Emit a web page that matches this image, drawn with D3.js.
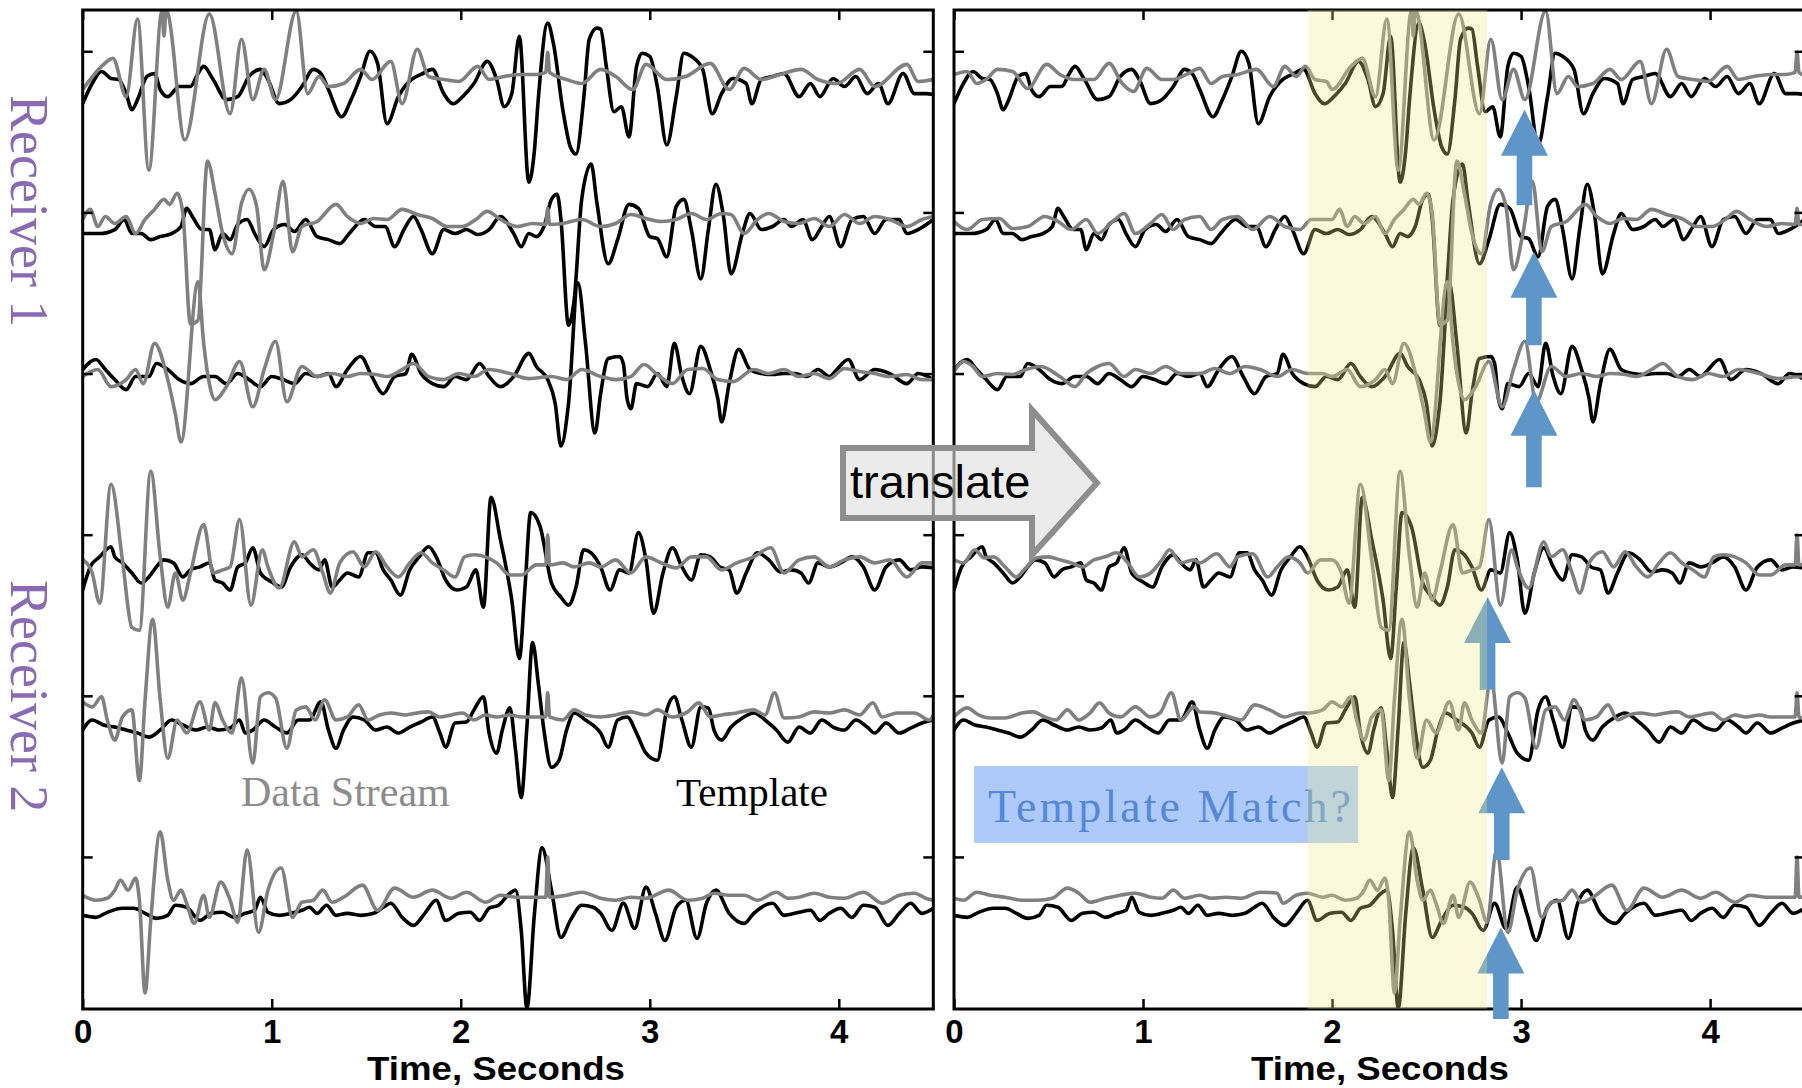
<!DOCTYPE html>
<html>
<head>
<meta charset="utf-8">
<script src="https://cdn.jsdelivr.net/npm/d3@7"></script>
<style>
  body { margin: 0; background: #fff; }
  svg { display: block; }
</style>
</head>
<body>
<svg id="fig" width="1802" height="1088"></svg>
<script>
// ---------------------------------------------------------------
// Seismogram traces: time in samples (100 Hz), amplitude in counts
// relative to each row's baseline level. Flat [t, a, t, a, ...].
// ---------------------------------------------------------------
const timeTicks  = [0, 1, 2, 3, 4];
const tickLabels = ["0", "1", "2", "3", "4"];
const rowLevels  = [960, 800, 640, 480, 320, 160];   // trace row baselines (counts)
const streamShift = 200;                              // samples the stream is translated by
const matchWindow = [1.87, 2.82];                     // seconds, highlighted window

// Template (black), rows 1-6
const black1 = [0,-52,5,-32,10,-20,15,-27,19,-28,23,-42,26,-58,29,-48,34,-25,38,-22,41,-38,45,-45,51,-35,57,-35,61,-22,64,-15,69,-28,76,-48,82,-45,88,-25,94,-18,98,-28,104,-52,110,-48,116,-35,122,-18,126,-22,130,-38,137,-65,142,-48,147,-25,152,0,156,-12,161,-72,167,-45,174,-28,179,-23,185,-18,191,-42,196,-52,201,-45,207,-32,214,-10,219,-28,223,-55,227,-42,231,15,236,-130,239,-98,241,-48,246,28,249,8,254,-58,258,-95,261,-102,265,-48,268,12,272,23,274,22,277,-15,281,-60,285,-55,289,-85,293,-15,296,-2,300,-5,304,-35,309,-93,314,-45,318,-2,322,-5,328,-18,333,-62,338,-42,344,-27,351,-32,354,-52,359,-28,365,-25,371,-22,379,-45,385,-32,390,-45,397,-27,403,-35,409,-25,415,-42,421,-32,426,-52,434,-22,440,-42,446,-42,450,-43];
const black2 = [0,-21,9,-21,17,-17,22,-7,26,-21,31,-21,36,-27,41,-24,47,-21,52,-14,55,4,58,-4,63,-17,67,-17,70,-37,74,-21,78,-27,82,-12,87,-7,91,-21,96,-34,101,-17,107,-12,112,-19,118,-7,124,-24,130,-27,136,-31,141,-21,149,-7,155,-14,160,-14,165,-34,170,-17,175,-4,179,-17,185,-41,191,-17,197,-21,203,-17,209,-22,215,-17,221,-4,228,-21,232,-34,236,-21,240,-24,244,-14,248,13,251,18,253,-7,257,-112,260,-87,264,13,269,48,272,10,278,-51,283,-27,289,8,294,4,300,-24,304,-26,309,-44,314,6,318,13,322,-17,327,-66,331,-17,335,28,339,-4,343,-61,349,-21,353,-1,359,-17,365,-14,371,-7,375,-14,381,-7,386,-27,391,-14,395,-4,401,-34,407,-7,413,-4,419,-21,425,-7,432,-7,436,-21,442,-17,450,-7];
const black3 = [0,4,7,14,12,4,17,-6,23,-16,28,-3,35,-3,39,10,45,4,51,-6,57,-10,64,-3,70,-3,76,-10,82,0,88,-6,94,-13,100,-3,106,-6,112,-10,118,0,124,-3,130,0,134,-13,140,4,147,17,153,-3,159,-20,165,-3,171,0,174,19,179,0,185,-10,191,-13,197,-3,203,-6,210,10,215,-3,221,-13,228,-3,236,20,240,7,246,-6,250,-30,253,-72,257,-30,262,90,266,30,271,-59,274,-20,278,15,284,17,286,10,288,-25,290,-35,293,-10,299,-13,304,0,309,-13,313,30,317,-3,321,-20,327,27,332,4,336,-25,338,-48,342,-10,347,24,353,4,359,0,365,-1,371,0,377,0,383,-3,389,4,395,-3,399,4,405,14,411,-6,419,4,427,0,436,-10,442,0,450,-6];
const black4 = [0,-55,4,-32,9,-22,15,-12,17,-22,21,-28,26,-38,31,-48,35,-42,39,-32,43,-25,48,-28,53,-42,57,-35,62,-32,67,-28,70,-45,74,-48,78,-55,82,-32,86,-28,90,-13,94,-38,100,-47,105,-52,110,-32,116,-20,120,-28,125,-35,128,-25,132,-52,136,-45,140,-38,146,-42,151,-18,155,-18,159,-35,163,-45,168,-60,173,-35,178,-22,183,-12,187,-22,192,-45,198,-55,203,-52,208,-35,212,-72,216,37,221,-5,227,-65,231,-123,234,-52,237,22,242,8,248,-48,253,-62,257,-70,261,-52,265,-15,269,-18,274,-32,279,-55,284,-35,289,-38,294,2,298,-25,302,-78,307,-38,312,-13,317,-32,322,-45,327,-20,332,-22,337,-32,342,-35,346,-58,351,-38,357,-18,363,-25,369,-37,375,-35,380,-38,384,-48,389,-28,395,-32,401,-28,407,-22,413,-32,419,-55,425,-32,432,-25,438,-35,444,-32,450,-33];
const black5 = [0,-34,5,-24,11,-29,17,-31,23,-34,29,-37,35,-41,41,-34,47,-24,53,-29,60,-34,66,-31,72,-34,78,-32,83,-24,86,-37,90,-34,96,-24,102,-31,108,-37,114,-24,120,-24,126,-6,130,-34,134,-52,138,-34,143,-21,149,-24,155,-34,161,-31,167,-37,173,-31,179,-26,185,-21,189,-37,192,-51,197,-27,203,-26,207,-14,212,-1,215,-37,219,-57,222,-34,226,-12,229,-54,232,-101,235,-31,238,53,241,13,244,-34,248,-71,252,-64,256,-34,260,-17,266,-24,274,-37,278,-51,283,-24,288,-21,293,-37,298,-57,304,-64,309,-14,313,-1,317,-24,322,-51,327,-11,331,-12,334,-34,338,-44,343,-31,349,-22,355,-17,361,-24,367,-34,373,-46,379,-31,385,-37,391,-24,397,-31,403,-34,409,-24,415,-31,419,-37,425,-27,432,-37,438,-32,444,-27,450,-24];
const black6 = [0,-58,7,-60,13,-55,21,-51,27,-51,33,-56,39,-61,45,-58,49,-48,55,-50,62,-63,68,-56,74,-55,80,-60,86,-56,91,-53,94,-40,98,-55,104,-58,110,-56,116,-53,120,-50,124,-56,129,-48,134,-58,140,-56,147,-58,154,-56,159,-50,163,-46,169,-60,175,-68,181,-56,187,-43,192,-63,199,-56,205,-55,210,-63,215,-51,220,-48,226,-36,229,-33,232,-73,235,-150,239,-56,243,9,248,-33,253,-80,258,-63,264,-48,270,-50,274,-56,280,-73,286,-46,292,-71,298,-30,303,-56,308,-83,314,-50,319,-43,325,-81,330,-46,335,-33,342,-56,350,-66,355,-56,365,-46,371,-58,379,-55,385,-53,390,-63,395,-56,401,-51,407,-60,413,-48,419,-50,426,-68,432,-56,438,-46,444,-56,450,-51];

// Data stream (gray), rows 1-6
const gray1 = [0,-38,10,-15,16,-7,23,-45,29,32,35,-118,42,40,43,15,44,40,45,38,54,-88,67,37,78,-62,84,12,90,-48,96,-18,102,-48,113,40,119,-42,125,-25,130,-35,138,-32,147,-18,153,-28,163,-10,169,-52,177,2,183,-25,191,-28,199,-30,209,-15,215,-28,223,-25,232,-23,240,-23,245,-21,246,-1,247,-21,256,-28,264,-32,274,-18,282,-25,291,-38,298,-13,309,-28,319,-25,332,-12,342,-38,350,-17,359,-28,369,-23,380,-18,389,-28,399,-32,411,-18,419,-35,436,-13,442,-30,450,-28];
const gray2 = [0,-7,4,3,8,-14,12,-4,17,-11,23,-4,28,-21,33,-7,38,3,43,13,46,8,50,19,53,-1,57,-111,61,-107,66,51,70,19,74,-21,79,-41,84,9,88,23,92,6,96,-57,101,-21,106,31,111,-39,116,-14,124,-9,134,8,140,-4,147,-11,154,-6,161,-7,169,3,177,-2,185,-6,193,-14,201,-14,208,-7,214,1,221,-7,230,-14,238,-11,245,-12,246,4,247,-12,254,-11,264,-7,274,-14,282,-11,290,-2,298,-6,306,-9,314,-7,322,-1,330,-7,338,-1,343,-2,350,-21,357,-7,363,-1,371,-9,379,-11,387,-6,395,-14,403,-2,411,-11,419,-4,427,-7,436,-14,444,-7,450,-4];
const gray3 = [0,-3,8,4,15,-13,23,-6,28,4,32,-10,38,30,45,-6,49,-40,52,-68,61,91,64,30,67,-10,70,-26,76,-13,83,12,90,-33,96,4,102,32,108,-28,116,7,124,-3,132,0,140,-3,147,0,155,-1,161,-3,169,4,175,10,183,-3,191,-6,199,0,207,-3,215,4,226,0,236,-5,248,-3,256,-6,264,4,274,-3,282,-6,290,-3,297,9,304,-1,312,-10,320,4,328,5,336,-6,344,-8,355,4,363,0,371,4,379,-3,387,0,395,-5,403,5,411,2,419,0,427,-3,436,-1,444,-6,450,-6];
const gray4 = [0,-25,5,-38,9,-68,15,50,21,-25,26,-92,30,-95,36,63,41,-22,45,-72,49,-38,53,-65,57,-38,64,10,69,-38,74,-35,78,-32,83,15,89,-70,95,-15,98,-32,104,-53,112,-7,116,-22,122,-15,127,-38,131,-58,136,-28,143,-17,149,-32,155,-17,161,-32,167,-42,173,-28,179,-18,185,-28,191,-35,197,-42,202,-22,207,-20,213,-22,219,-28,226,-40,232,-40,240,-30,245,-30,246,0,247,-30,254,-28,260,-32,268,-28,274,-32,282,-25,290,-38,298,-22,306,-28,314,-33,322,-22,330,-22,338,-35,346,-28,355,-22,364,-13,371,-38,379,-25,387,-22,395,-32,403,-25,411,-22,419,-28,427,-25,436,-42,444,-28,450,-28];
const gray5 = [0,-6,5,-11,10,-1,13,-24,17,-44,21,-21,26,-14,30,-84,33,-4,37,76,41,-4,45,-62,50,-24,55,-37,62,-6,67,-34,70,-7,74,-24,79,-37,84,18,90,-67,94,-1,98,3,102,-2,108,-52,113,-14,118,-11,123,-24,128,-4,134,-24,140,-21,146,-9,151,-24,157,-19,163,-17,171,-19,177,-17,183,-16,189,-21,195,-19,201,-17,207,-24,213,-19,219,-21,226,-19,232,-21,240,-21,245,-21,246,3,247,-21,254,-24,260,-14,266,-19,274,-21,282,-19,290,-16,298,-19,304,-14,312,-21,320,-16,326,-7,332,-21,338,-19,346,-17,355,-14,361,-19,366,3,371,-22,379,-21,387,-16,395,-17,403,-14,411,-19,418,-7,423,-21,431,-17,440,-17,448,-24,450,-19];
const gray6 = [0,-38,7,-43,13,-41,17,-33,20,-23,24,-33,28,-21,30,-43,33,-135,36,-63,41,25,45,-23,48,-43,52,-33,55,-46,59,-66,64,-38,67,-60,73,-25,78,-43,82,-65,87,7,93,-75,98,-33,105,-11,111,-60,116,-45,122,-43,127,-33,132,-45,138,-40,148,-28,156,-53,165,-31,175,-40,185,-33,195,-41,203,-35,213,-45,221,-38,230,-40,240,-40,245,-40,246,0,247,-40,256,-38,264,-35,274,-41,282,-43,290,-40,298,-41,310,-33,320,-43,328,-41,334,-36,342,-38,350,-38,357,-43,367,-35,373,-41,379,-40,387,-36,395,-40,403,-41,413,-35,423,-46,432,-38,440,-36,446,-41,450,-43];

// Stream samples that precede the translated segment, rows 1-6
const lead1 = [0,-23,7,-20,12,-32,17,-28,23,-18,31,-20,39,-37,49,-13,56,-23,64,-28,74,-28,82,-12,89,-32,95,-40,102,-17,110,-28,116,-28,124,-22,130,-17,136,-32,142,-25,150,-23,160,-18,169,-35,175,-15,181,-25,186,-15,191,-28,197,-30];
const lead2 = [0,-9,7,-17,15,-7,24,-6,31,-16,39,-14,48,-4,55,-9,62,-17,70,-7,76,-21,84,-9,90,-1,96,-21,104,-11,110,-2,116,-17,122,-7,130,-4,136,-17,142,-7,150,-4,158,-17,167,-4,175,-14,183,-17,189,-7,196,-7];
const lead3 = [0,2,5,12,10,7,15,-3,23,0,31,-1,38,4,46,7,56,-3,64,-13,70,0,76,7,82,10,90,-3,96,4,104,0,112,7,120,0,130,0,138,5,146,0,154,7,162,4,171,-3,179,4,187,0,195,0];
const lead4 = [0,-25,5,-28,11,-15,16,-23,21,-22,27,-32,33,-42,37,-35,44,-23,50,-22,56,-25,62,-28,68,-32,74,-25,80,-22,86,-18,92,-28,98,-42,104,-38,110,-25,114,-15,120,-28,127,-25,130,-28,139,-19,146,-32,150,-22,158,-19,166,-42,171,-32,177,-22,183,-28,187,-38,194,-25];
const lead5 = [0,-21,7,-12,13,-19,19,-22,27,-22,36,-17,42,-16,48,-21,54,-24,60,-14,66,-24,72,-17,77,-7,82,-17,88,-21,96,-11,104,-21,109,-17,115,3,120,-24,127,-11,130,-16,138,-17,146,-21,152,-24,159,-9,167,-14,175,-21,183,-17,188,-17,195,-14];
const lead6 = [0,-41,5,-43,12,-35,19,-38,27,-40,36,-43,44,-43,52,-41,60,-31,66,-36,72,-45,80,-41,88,-38,96,-36,104,-40,110,-41,116,-33,122,-41,130,-38,136,-41,144,-40,152,-41,162,-35,171,-36,174,-46,181,-38,187,-36,195,-40];

// Candidate-match markers on the translated panel: time (s), tip and tail (counts)
const markerTime = [3.018, 3.068, 3.068, 2.823, 2.898, 2.893];
const markerTip  = [902, 761, 624, 418, 249, 90];
const markerTail = [807, 668, 527, 326, 157, -1];

// ---------------------------------------------------------------
const templates = [black1, black2, black3, black4, black5, black6];
const streams   = [gray1, gray2, gray3, gray4, gray5, gray6];
const leads     = [lead1, lead2, lead3, lead4, lead5, lead6];

const pairs = a => d3.range(0, a.length, 2).map(i => [a[i], a[i + 1]]);

const svg = d3.select("#fig");
const plotTop = 10, plotBottom = 1009;
const y = d3.scaleLinear().domain([9, 1001]).range([plotBottom, plotTop]);

const panels = [
  { left: 82.7, right: 933.3 },
  { left: 954,  right: 1804.6 }
];
panels.forEach(p => { p.x = d3.scaleLinear().domain([0, 4.5]).range([p.left, p.right]); });

const BLACK = "#000", GRAY = "#808080";
const sans = "'Liberation Sans', Arial, Helvetica, sans-serif";
const serif = "'Liberation Serif', 'Times New Roman', Times, serif";

function traceLine(x, level) {
  return d3.line()
    .x(d => x(d[0] / 100))
    .y(d => y(level + d[1]))
    .curve(d3.curveMonotoneX);
}

const defs = svg.append("defs");
panels.forEach((p, i) => {
  defs.append("clipPath").attr("id", "clip" + i)
    .append("rect")
    .attr("x", p.left).attr("y", plotTop)
    .attr("width", p.right - p.left).attr("height", plotBottom - plotTop);
});

// ---- traces ----
panels.forEach((p, pi) => {
  const g = svg.append("g").attr("clip-path", `url(#clip${pi})`)
    .attr("fill", "none").attr("stroke-width", 3.6)
    .attr("stroke-linejoin", "round").attr("stroke-linecap", "round");

  rowLevels.forEach((lvl, r) => {
    g.append("path").attr("d", traceLine(p.x, lvl)(pairs(templates[r])))
      .attr("stroke", BLACK);
  });
  rowLevels.forEach((lvl, r) => {
    let pts = pairs(streams[r]);
    if (pi === 1) {
      pts = pairs(leads[r]).concat(pts.map(d => [d[0] + streamShift, d[1]]));
    }
    g.append("path").attr("d", traceLine(p.x, lvl)(pts))
      .attr("stroke", GRAY);
  });
});

// ---- frames and ticks ----
panels.forEach(p => {
  const g = svg.append("g");
  g.append("rect")
    .attr("x", p.left).attr("y", plotTop)
    .attr("width", p.right - p.left).attr("height", plotBottom - plotTop)
    .attr("fill", "none").attr("stroke", "#000").attr("stroke-width", 3);

  const bottom = g.append("g").attr("transform", `translate(0,${plotBottom})`)
    .call(d3.axisBottom(p.x).tickValues(timeTicks)
      .tickFormat((d, i) => tickLabels[i]).tickSize(-10).tickPadding(10.5));
  const top = g.append("g").attr("transform", `translate(0,${plotTop})`)
    .call(d3.axisTop(p.x).tickValues(timeTicks).tickFormat("").tickSize(-10));
  const left = g.append("g").attr("transform", `translate(${p.left},0)`)
    .call(d3.axisLeft(y).tickValues(rowLevels).tickFormat("").tickSize(-10));
  const right = g.append("g").attr("transform", `translate(${p.right},0)`)
    .call(d3.axisRight(y).tickValues(rowLevels).tickFormat("").tickSize(-10));

  [bottom, top, left, right].forEach(a => {
    a.select(".domain").remove();
    a.selectAll(".tick line").attr("stroke", "#000").attr("stroke-width", 2.5);
  });
  bottom.selectAll(".tick text")
    .attr("fill", "#000")
    .style("font-family", sans)
    .style("font-weight", "bold")
    .style("font-size", "33px");
});

// ---- axis titles ----
[[496, 1080], [1380, 1080]].forEach(([cx, by]) => {
  svg.append("text").attr("x", cx).attr("y", by)
    .attr("text-anchor", "middle")
    .attr("textLength", 258).attr("lengthAdjust", "spacingAndGlyphs")
    .style("font-family", sans)
    .style("font-weight", "bold").style("font-size", "33px")
    .attr("fill", "#000")
    .text("Time, Seconds");
});

// ---- receiver labels ----
[["Receiver 1", 95], ["Receiver 2", 580]].forEach(([t, y0]) => {
  svg.append("text")
    .attr("transform", `translate(11,${y0}) rotate(90)`)
    .style("font-family", serif).style("font-size", "54px")
    .attr("fill", "#8a6bb3")
    .text(t);
});

// ---- legend words ----
svg.append("text").attr("x", 241).attr("y", 806)
  .style("font-family", serif).style("font-size", "42px")
  .attr("fill", "#8c8c8c").text("Data Stream");
svg.append("text").attr("x", 676).attr("y", 806)
  .style("font-family", serif).style("font-size", "41px")
  .attr("fill", "#000").text("Template");

// ---- "Template Match?" box ----
svg.append("rect").attr("x", 974).attr("y", 766).attr("width", 384).attr("height", 77)
  .attr("fill", "#aecafa");
svg.append("text").attr("x", 988).attr("y", 822)
  .attr("textLength", 363).attr("lengthAdjust", "spacing")
  .style("font-family", serif).style("font-size", "46px")
  .attr("fill", "#5588d9").text("Template Match?");

// ---- match markers (up arrows) ----
const xr = panels[1].x;
markerTime.forEach((t, i) => {
  const cx = xr(t), ty = y(markerTip[i]), by = y(markerTail[i]);
  const hh = 46, hw = 23.5, sw = 7.8;
  const pts = [[cx, ty], [cx + hw, ty + hh], [cx + sw, ty + hh], [cx + sw, by],
               [cx - sw, by], [cx - sw, ty + hh], [cx - hw, ty + hh]];
  svg.append("polygon").attr("points", pts.map(d => d.join(",")).join(" "))
    .attr("fill", "#5f96c9");
});

// ---- highlighted match window ----
svg.append("rect")
  .attr("x", xr(matchWindow[0])).attr("y", plotTop)
  .attr("width", xr(matchWindow[1]) - xr(matchWindow[0]))
  .attr("height", plotBottom - plotTop)
  .attr("fill", "rgb(240,235,140)").attr("fill-opacity", 0.3);

// ---- "translate" block arrow ----
svg.append("path")
  .attr("d", "M843,448 L1032,448 L1032,410 L1097,483 L1032,555 L1032,518 L843,518 Z")
  .attr("fill", "rgb(222,222,222)").attr("fill-opacity", 0.62)
  .attr("stroke", "#8e8e8e").attr("stroke-width", 6).attr("stroke-linejoin", "miter");
svg.append("text").attr("x", 850).attr("y", 498)
  .style("font-family", sans)
  .style("font-size", "47px").attr("fill", "#000")
  .text("translate");
</script>
</body>
</html>
